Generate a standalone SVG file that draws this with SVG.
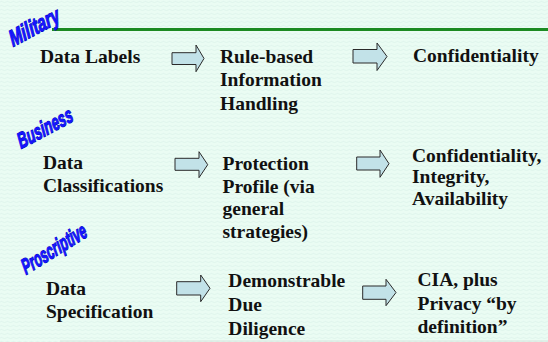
<svg xmlns="http://www.w3.org/2000/svg" width="548" height="342" viewBox="0 0 548 342">
  <style>
    .t { font-family: "Liberation Serif", "Times New Roman", serif; font-weight: bold; font-size: 19.5px; fill: #111; }
    .wa { font-family: "Liberation Sans", Arial, sans-serif; font-weight: bold; font-style: italic; fill: #1414ff; stroke: #0000b8; stroke-width: 1.1; paint-order: stroke; }
    .arr { fill: #c2e2e8; stroke: #2a2a2a; stroke-width: 1; stroke-linejoin: miter; }
  </style>
  <defs>
    <pattern id="bgtex" width="6" height="4" patternUnits="userSpaceOnUse">
      <rect width="6" height="4" fill="#eafcf3"/>
      <path d="M0 2 Q1.5 0.8 3 2 T6 2" fill="none" stroke="#dcf3ea" stroke-width="0.8"/>
    </pattern>
  </defs>

  <!-- background -->
  <rect width="548" height="342" fill="url(#bgtex)"/>
  <line x1="52" y1="29.5" x2="548" y2="29.5" stroke="#1c8a22" stroke-width="3"/>
  <line x1="60" y1="341" x2="548" y2="341" stroke="#d6e4dc" stroke-width="1"/>

  <!-- category headings -->
  <g id="heading-military">
    <text class="wa" font-size="23" transform="translate(13,47) rotate(-28) skewX(-6) scale(0.68,1)">Military</text>
  </g>
  <g id="heading-business">
    <text class="wa" font-size="22" transform="translate(21,149) rotate(-28) skewX(-6) scale(0.62,1)">Business</text>
  </g>
  <g id="heading-proscriptive">
    <text class="wa" font-size="22" transform="translate(26,275) rotate(-32) skewX(-6) scale(0.58,1)">Proscriptive</text>
  </g>

  <!-- row 1 -->
  <g id="n-data-labels">
    <text class="t" x="40" y="63">Data Labels</text>
  </g>
  <g id="n-rule-based">
    <text class="t" x="220" y="63">Rule-based</text>
    <text class="t" x="220" y="86.3">Information</text>
    <text class="t" x="220" y="109.6">Handling</text>
  </g>
  <g id="n-confidentiality">
    <text class="t" x="413" y="62">Confidentiality</text>
  </g>

  <!-- row 2 -->
  <g id="n-data-classifications">
    <text class="t" x="43" y="169">Data</text>
    <text class="t" x="43" y="191.7">Classifications</text>
  </g>
  <g id="n-protection-profile">
    <text class="t" x="222.5" y="170">Protection</text>
    <text class="t" x="222.5" y="192.5">Profile (via</text>
    <text class="t" x="222.5" y="215">general</text>
    <text class="t" x="222.5" y="237.5">strategies)</text>
  </g>
  <g id="n-cia">
    <text class="t" x="412" y="161.5">Confidentiality,</text>
    <text class="t" x="412" y="183.3">Integrity,</text>
    <text class="t" x="412" y="205">Availability</text>
  </g>

  <!-- row 3 -->
  <g id="n-data-specification">
    <text class="t" x="46" y="295">Data</text>
    <text class="t" x="46" y="318.3">Specification</text>
  </g>
  <g id="n-due-diligence">
    <text class="t" x="228.3" y="287.3">Demonstrable</text>
    <text class="t" x="228.3" y="311.3">Due</text>
    <text class="t" x="228.3" y="335">Diligence</text>
  </g>
  <g id="n-cia-privacy">
    <text class="t" x="417.5" y="286">CIA, plus</text>
    <text class="t" x="417.5" y="309.7">Privacy “by</text>
    <text class="t" x="417.5" y="333.3">definition”</text>
  </g>

  <!-- connectors: block arrows -->
  <g id="connectors">
    <path class="arr" d="M172 52.7 H196 V45 L204 58.5 L196 71.7 V64.5 H172 Z"/>
    <path class="arr" d="M353 49.5 H377 V43 L387 56.5 L377 70.5 V63 H353 Z"/>
    <path class="arr" d="M175 158.3 H199 V151.7 L207.7 164.7 L199 177.7 V170.3 H175 Z"/>
    <path class="arr" d="M356.7 157 H380 V150 L389 163.7 L380 177.3 V170 H356.7 Z"/>
    <path class="arr" d="M176.7 281.7 H200.7 V275 L210 288.3 L200.7 301.7 V295 H176.7 Z"/>
    <path class="arr" d="M362.7 286 H386 V279.3 L396 292.5 L386 305.7 V299.3 H362.7 Z"/>
  </g>
</svg>
